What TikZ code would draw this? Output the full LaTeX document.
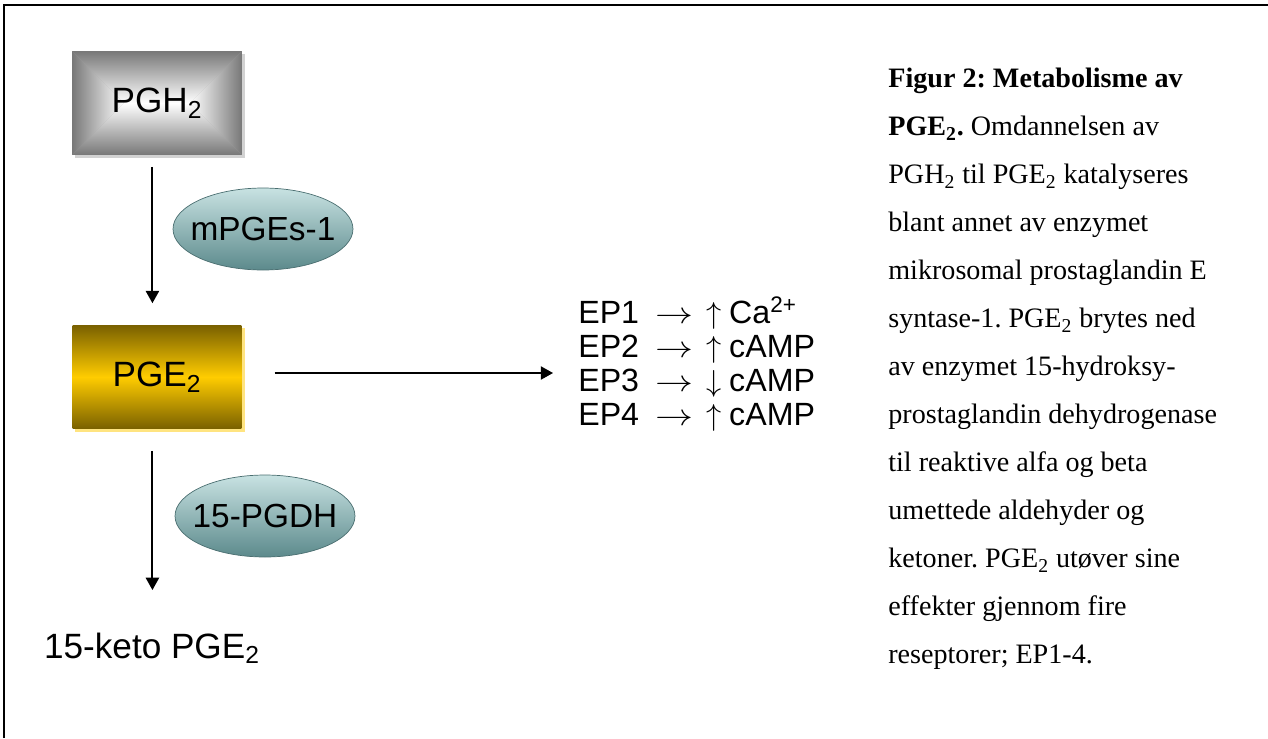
\documentclass[tikz,border=0pt]{standalone}
\usepackage{fontspec}
\setmainfont{Liberation Serif}
\setsansfont{Liberation Sans}
\usepackage{tikz}
\usetikzlibrary{arrows.meta, calc, positioning, shapes.geometric, backgrounds}
\usepackage{xcolor}
\definecolor{pghedge}{RGB}{120,120,120}
\definecolor{pgedark}{RGB}{122,97,0}
\definecolor{pgegold}{RGB}{255,204,0}
\definecolor{pgeshadow}{RGB}{255,228,128}
\definecolor{enzlight}{RGB}{200,226,226}
\definecolor{enzdark}{RGB}{92,138,140}
\frenchspacing

\begin{document}
\begin{tikzpicture}[x=0.02cm, y=-0.02cm,
  molbox/.style={rectangle, minimum width=3.38cm, minimum height=2.06cm,
    inner sep=0pt, font=\sffamily\fontsize{20}{24}\selectfont},
  enzyme/.style={ellipse, minimum width=3.6cm, minimum height=1.64cm,
    inner xsep=-20pt, inner ysep=-10pt, draw=enzdark!80!black, line width=0.4pt,
    top color=enzlight, bottom color=enzdark,
    font=\sffamily\fontsize{19}{23}\selectfont},
  arr/.style={-{Triangle[width=7.5pt,length=7pt]}, line width=1.1pt}]
\useasboundingbox (0,0) rectangle (1268,738);
% frame
\draw[line width=1.4pt] (4,738) -- (4,5) -- (1268,5);

% PGH2 box with bevel shading
\node[molbox] (pgh) at (157,103) {PGH\textsubscript{2}};
\begin{scope}[on background layer]
  \fill[gray!35] ($(pgh.north west)+(3,3)$) rectangle ($(pgh.south east)+(3,3)$);
  \fill[gray!70] (pgh.north west) rectangle (pgh.south east);
  \shade[top color=pghedge, bottom color=white] (pgh.north west) -- (pgh.north east)
    -- ($(pgh.center)+(33,0)$) -- ($(pgh.center)+(-33,0)$) -- cycle;
  \shade[top color=white, bottom color=pghedge] (pgh.south west) -- (pgh.south east)
    -- ($(pgh.center)+(33,0)$) -- ($(pgh.center)+(-33,0)$) -- cycle;
  \shade[left color=pghedge, right color=white] (pgh.north west)
    -- ($(pgh.center)+(-33,0)$) -- (pgh.south west) -- cycle;
  \shade[left color=white, right color=pghedge] (pgh.north east)
    -- ($(pgh.center)+(33,0)$) -- (pgh.south east) -- cycle;
\end{scope}

% PGE2 box
\node[molbox, top color=pgedark, bottom color=pgedark, middle color=pgegold] (pge) at (157,377) {PGE\textsubscript{2}};
\begin{scope}[on background layer]
  \fill[pgeshadow] ($(pge.north west)+(3,3)$) rectangle ($(pge.south east)+(3,3)$);
\end{scope}

% enzymes
\node[enzyme] (mpges) at (263,229) {mPGEs-1};
\node[enzyme] (pgdh) at (265,516) {15-PGDH};

\node[inner sep=0pt, font=\sffamily\fontsize{20}{24}\selectfont] (keto) at (152,648) {15-keto PGE\textsubscript{2}};

% receptors
\node[anchor=west, align=left, inner sep=0pt, font=\sffamily\fontsize{18.3}{19.5}\selectfont] (ep) at (578,364)
  {EP1\hspace{0.5em}\scalebox{1.25}[1]{$\rightarrow$}\hspace{0.4em}$\uparrow$\hspace{0.25em}Ca\textsuperscript{2+}\\
   EP2\hspace{0.5em}\scalebox{1.25}[1]{$\rightarrow$}\hspace{0.4em}$\uparrow$\hspace{0.25em}cAMP\\
   EP3\hspace{0.5em}\scalebox{1.25}[1]{$\rightarrow$}\hspace{0.4em}$\downarrow$\hspace{0.25em}cAMP\\
   EP4\hspace{0.5em}\scalebox{1.25}[1]{$\rightarrow$}\hspace{0.4em}$\uparrow$\hspace{0.25em}cAMP};

\draw[arr, shorten <=6.8pt, shorten >=12.5pt] ([xshift=-2.6pt]pgh.south) -- ([xshift=-2.6pt]pge.north);
\draw[arr, shorten <=12.5pt, shorten >=24pt] ([xshift=-2.6pt]pge.south) -- ([xshift=-2.6pt]pge.south |- keto.north);
\draw[arr, shorten <=18.7pt, shorten >=14.2pt] ($(pge.east)+(0,-4)$) -- ($(pge.east -| ep.west)+(0,-4)$);

% caption
\node[anchor=north west, align=left, inner sep=0pt, font=\fontsize{16}{27.3}\selectfont] (capt) at (888,68)
  {\textbf{Figur 2: Metabolisme av}\\
   \textbf{PGE\textsubscript{2}.} Omdannelsen av\\
   PGH\textsubscript{2} til PGE\textsubscript{2} katalyseres\\
   blant annet av enzymet\\
   mikrosomal prostaglandin E\\
   syntase-1. PGE\textsubscript{2} brytes ned\\
   av enzymet 15-hydroksy-\\
   prostaglandin dehydrogenase\\
   til reaktive alfa og beta\\
   umettede aldehyder og\\
   ketoner. PGE\textsubscript{2} utøver sine\\
   effekter gjennom fire\\
   reseptorer; EP1-4.};
\end{tikzpicture}
\end{document}
